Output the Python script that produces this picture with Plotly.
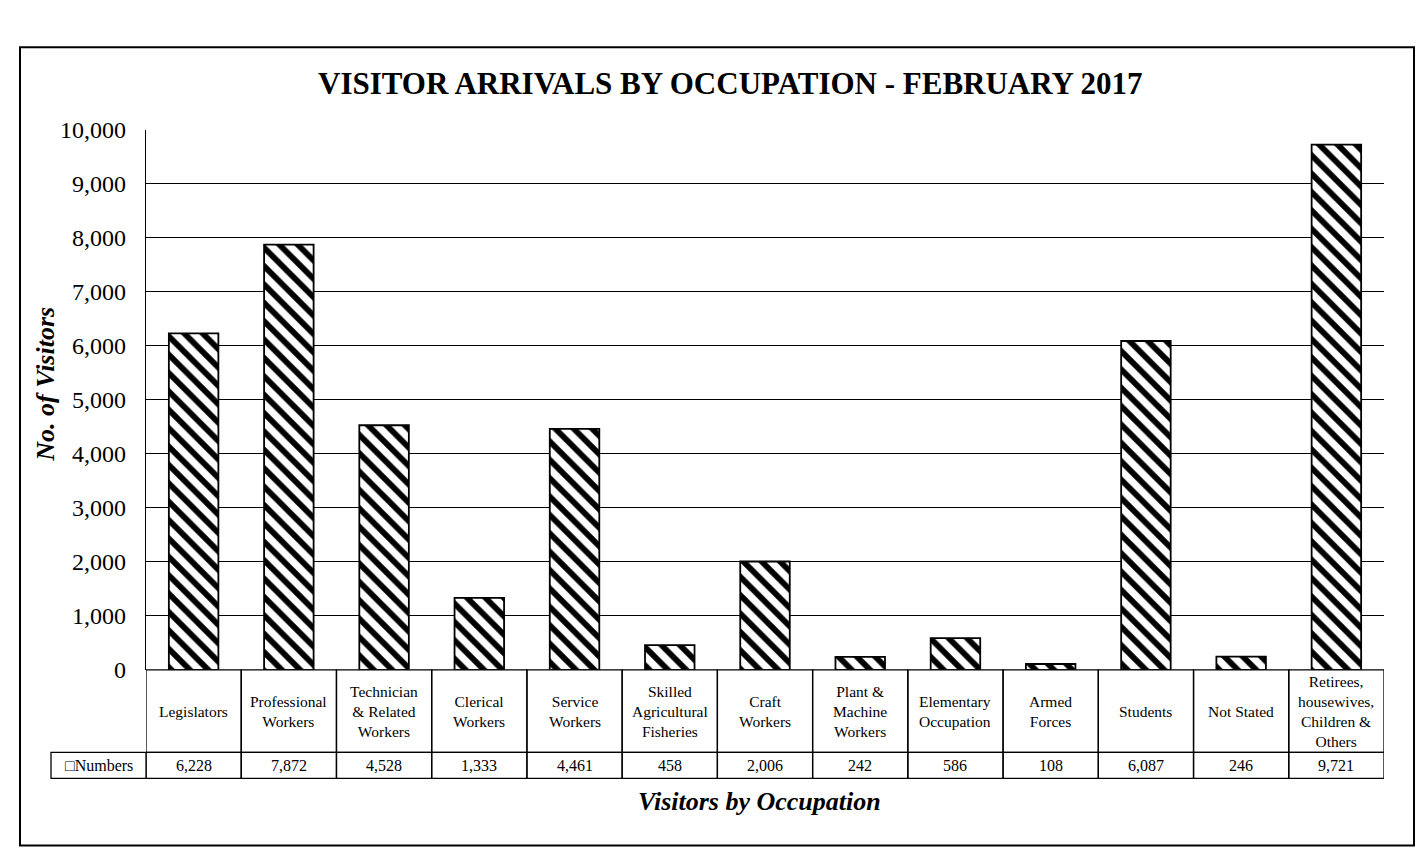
import plotly.graph_objects as go

categories = [
    "Legislators", "Professional<br>Workers", "Technician<br>& Related<br>Workers",
    "Clerical<br>Workers", "Service<br>Workers", "Skilled<br>Agricultural<br>Fisheries",
    "Craft<br>Workers", "Plant &<br>Machine<br>Workers", "Elementary<br>Occupation",
    "Armed<br>Forces", "Students", "Not Stated",
    "Retirees,<br>housewives,<br>Children &<br>Others",
]
values = [6228, 7872, 4528, 1333, 4461, 458, 2006, 242, 586, 108, 6087, 246, 9721]
series_name = "Numbers"
y_ticks = list(range(0, 10001, 1000))

W, H = 1424, 863
FONT = "Liberation Serif, Times New Roman, serif"

def px_x(p):
    return p / W

def px_y(p):
    return (H - p) / H

plot_left, plot_right = 138, 1376
plot_top, plot_zero = 112, 669
row1_bottom, row2_bottom = 754, 781
label_left = 43

xs = list(range(len(categories)))

fig = go.Figure()
fig.add_trace(go.Bar(
    x=xs, y=values, name=series_name,
    marker=dict(
        color="white",
        line=dict(color="black", width=1.8),
        pattern=dict(shape="\\", fgcolor="black", bgcolor="white", fgopacity=1,
                     size=13, solidity=0.45),
    ),
    width=0.52,
    showlegend=False,
))

shapes = []
annotations = []
y_top = px_y(plot_zero)
y_mid = px_y(row1_bottom)
y_bot = px_y(row2_bottom)
for i, (cat, v) in enumerate(zip(categories, values)):
    shapes.append(dict(type="rect", xref="x", yref="paper", x0=i - 0.5, x1=i + 0.5,
                       y0=y_mid, y1=y_top, line=dict(color="black", width=1.3)))
    shapes.append(dict(type="rect", xref="x", yref="paper", x0=i - 0.5, x1=i + 0.5,
                       y0=y_bot, y1=y_mid, line=dict(color="black", width=1.3)))
    annotations.append(dict(x=i, xref="x", y=(y_top + y_mid) / 2, yref="paper",
                            text=cat, showarrow=False, yanchor="middle", xanchor="center",
                            font=dict(family=FONT, size=15.5, color="black")))
    annotations.append(dict(x=i, xref="x", y=(y_mid + y_bot) / 2, yref="paper",
                            text=f"{v:,}", showarrow=False, yanchor="middle", xanchor="center",
                            font=dict(family=FONT, size=16, color="black")))

# series label cell
shapes.append(dict(type="rect", xref="paper", yref="paper", x0=px_x(label_left), x1=px_x(plot_left),
                   y0=y_bot, y1=y_mid, line=dict(color="black", width=1.3)))
annotations.append(dict(x=(px_x(label_left) + px_x(plot_left)) / 2, xref="paper",
                        y=(y_mid + y_bot) / 2, yref="paper", text="\u25a1" + series_name,
                        showarrow=False, yanchor="middle", xanchor="center",
                        font=dict(family=FONT, size=16, color="black")))

# outer border
shapes.append(dict(type="rect", xref="paper", yref="paper", x0=px_x(12), x1=px_x(1406),
                   y0=px_y(850), y1=px_y(27), line=dict(color="black", width=2)))

annotations.append(dict(x=px_x(722), y=px_y(64), xref="paper", yref="paper",
                        text="<b>VISITOR ARRIVALS BY OCCUPATION - FEBRUARY 2017</b>",
                        showarrow=False, xanchor="center", yanchor="middle",
                        font=dict(family=FONT, size=31, color="black")))
annotations.append(dict(x=px_x(752), y=px_y(805), xref="paper", yref="paper",
                        text="<b><i>Visitors by Occupation</i></b>",
                        showarrow=False, xanchor="center", yanchor="middle",
                        font=dict(family=FONT, size=26, color="black")))
annotations.append(dict(x=px_x(38), y=px_y(375), xref="paper", yref="paper",
                        text="<b><i>No. of Visitors</i></b>", textangle=-90,
                        showarrow=False, xanchor="center", yanchor="middle",
                        font=dict(family=FONT, size=26, color="black")))

fig.update_layout(
    width=W, height=H, autosize=False,
    margin=dict(l=0, r=0, t=0, b=0),
    paper_bgcolor="white", plot_bgcolor="white",
    shapes=shapes, annotations=annotations,
    xaxis=dict(domain=[px_x(plot_left), px_x(plot_right)], range=[-0.5, len(categories) - 0.5],
               showticklabels=False, showgrid=False, zeroline=False, showline=False, ticks=""),
    yaxis=dict(domain=[px_y(plot_zero), px_y(plot_top)], range=[0, 10000],
               tickvals=y_ticks, tickformat=",", showgrid=True, gridcolor="black", gridwidth=1.4,
               showline=True, linecolor="black", linewidth=1.4, ticks="",
               ticklabelstandoff=14, zeroline=False,
               tickfont=dict(family=FONT, size=24, color="black")),
    font=dict(family=FONT, color="black"),
)

fig.write_html("out.html")
